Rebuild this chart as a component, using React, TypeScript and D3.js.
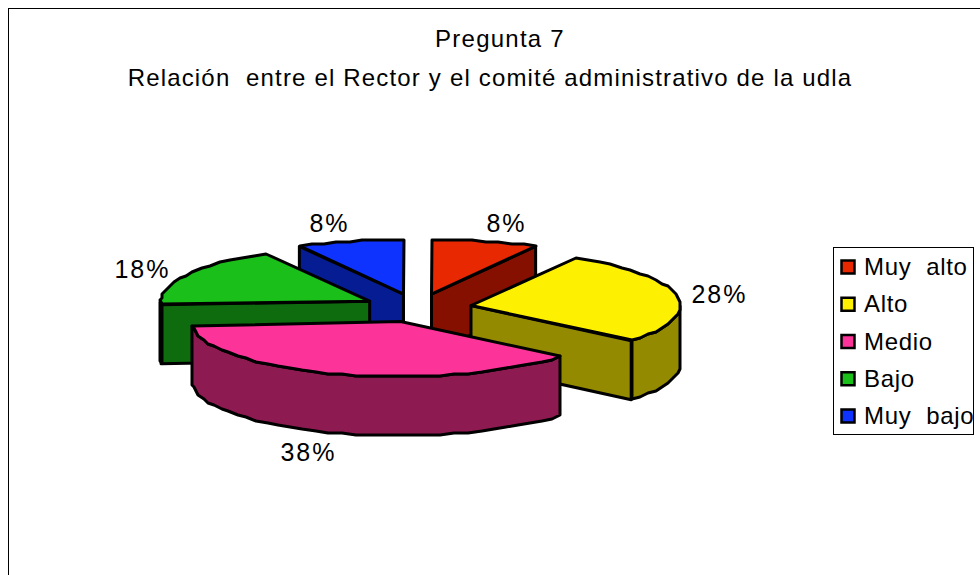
import React from "react";
import * as d3 from "d3";

const titleLines = ["Pregunta 7", "Relación  entre el Rector y el comité administrativo de la udla"];
const categories = ["Muy alto", "Alto", "Medio", "Bajo", "Muy bajo"];
const values = [8.3, 27.8, 37.9, 17.7, 8.3];
const topColors = ["#e82800", "#fdf000", "#fc3399", "#1abf1a", "#0f33ff"];
const sideColors = ["#851000", "#948a00", "#8e1a52", "#0e6b0e", "#051c92"];
const drawOrder = [0, 4, 3, 1, 2];
// label centres, relative to the pie centre
const labelOffsets: [number, number][] = [[89, -91], [302, -20], [-109, 138], [-275, -45], [-88, -91]];

const W = 980, H = 575;
const cx = 417.5, cy = 308, rx = 209, ry = 55, depth = 59, explode = 0.26;

const arcs = d3.pie<number>().sort(null).value((d) => d)(values);
const line = d3.line<[number, number]>().curve(d3.curveLinear);
const sx = d3.scaleLinear().domain([-1, 1]).range([-rx, rx]);
const sy = d3.scaleLinear().domain([-1, 1]).range([ry, -ry]);

type P = [number, number];
const pt = (o: P, a: number, r = 1): P => [o[0] + sx(Math.sin(a) * r), o[1] + sy(Math.cos(a) * r)];
const arcPts = (o: P, a0: number, a1: number): P[] => {
  const n = Math.max(2, Math.ceil(Math.abs(a1 - a0) / 0.07));
  return d3.range(n + 1).map((i) => {
    const p = pt(o, a0 + ((a1 - a0) * i) / n);
    return [Math.round(p[0] / 2) * 2, Math.round(p[1] / 2) * 2] as P;
  });
};
const down = (p: P): P => [p[0], p[1] + depth];
const eps = 1e-6;

function Slice({ i }: { i: number }) {
  const a = arcs[i];
  const mid = (a.startAngle + a.endAngle) / 2;
  const o: P = [cx + sx(Math.sin(mid) * explode), cy + sy(Math.cos(mid) * explode)];
  const wallAt = (ang: number) => {
    const e = pt(o, ang);
    return line([o, e, down(e), down(o)]) + "Z";
  };
  const rimFrom = Math.max(a.startAngle, Math.PI / 2);
  const rimTo = Math.min(a.endAngle, (3 * Math.PI) / 2);
  const rim = rimTo > rimFrom ? arcPts(o, rimFrom, rimTo) : null;
  const common = { stroke: "#000", strokeWidth: 3, strokeLinejoin: "round" as const };
  return (
    <g>
      {Math.sin(a.startAngle) < -eps && <path d={wallAt(a.startAngle)} fill={sideColors[i]} {...common} />}
      {Math.sin(a.endAngle) > eps && <path d={wallAt(a.endAngle)} fill={sideColors[i]} {...common} />}
      {rim && <path d={line([...rim, ...rim.slice().reverse().map(down)]) + "Z"} fill={sideColors[i]} {...common} />}
      <path d={line([o, ...arcPts(o, a.startAngle, a.endAngle)]) + "Z"} fill={topColors[i]} {...common} />
    </g>
  );
}

export default function App() {
  const legendY = d3.scalePoint<string>().domain(categories).range([267, 416]);
  return (
    <svg width={W} height={H} style={{ position: "absolute", left: 0, top: 0 }} fontFamily="'Liberation Sans', Arial, sans-serif" fill="#000">
      <rect x={8.5} y={8.5} width={W} height={H} fill="#fff" stroke="#000" />
      <text x={500} y={47} textAnchor="middle" fontSize={24} letterSpacing={1.25}>{titleLines[0]}</text>
      <text x={490} y={86} textAnchor="middle" fontSize={24} letterSpacing={1.17} style={{ whiteSpace: "pre" }}>{titleLines[1]}</text>
      {drawOrder.map((i) => <Slice key={i} i={i} />)}
      {values.map((v, i) => (
        <text key={i} x={cx + labelOffsets[i][0]} y={cy + labelOffsets[i][1] + 15} textAnchor="middle" fontSize={25} letterSpacing={2}>{Math.round(v)}%</text>
      ))}
      <rect x={833.5} y={247.5} width={140} height={187} fill="#fff" stroke="#000" />
      {categories.map((c, i) => {
        const y = legendY(c)!;
        return (
          <g key={c}>
            <rect x={841.5} y={y - 6.5} width={13} height={13} fill={topColors[i]} stroke="#000" strokeWidth={2.5} />
            <text x={864} y={y + 8} fontSize={24} letterSpacing={0.7} style={{ whiteSpace: "pre" }}>{c.replace(" ", "  ")}</text>
          </g>
        );
      })}
    </svg>
  );
}
